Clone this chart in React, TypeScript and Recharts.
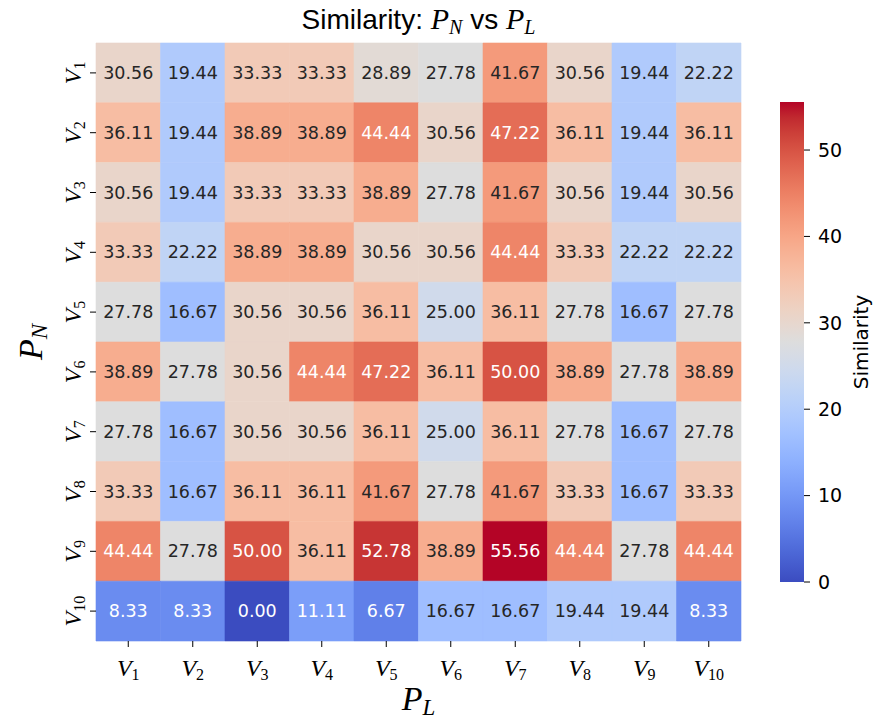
import React from 'react';
import { ScatterChart, ComposedChart, Scatter, XAxis, YAxis, ReferenceArea, Label } from 'recharts';

// ---- data ----
const colSubs = ['1', '2', '3', '4', '5', '6', '7', '8', '9', '10'];
const rowSubs = ['1', '2', '3', '4', '5', '6', '7', '8', '9', '10'];

const rowV1 = [30.56, 19.44, 33.33, 33.33, 28.89, 27.78, 41.67, 30.56, 19.44, 22.22];
const rowV2 = [36.11, 19.44, 38.89, 38.89, 44.44, 30.56, 47.22, 36.11, 19.44, 36.11];
const rowV3 = [30.56, 19.44, 33.33, 33.33, 38.89, 27.78, 41.67, 30.56, 19.44, 30.56];
const rowV4 = [33.33, 22.22, 38.89, 38.89, 30.56, 30.56, 44.44, 33.33, 22.22, 22.22];
const rowV5 = [27.78, 16.67, 30.56, 30.56, 36.11, 25.0, 36.11, 27.78, 16.67, 27.78];
const rowV6 = [38.89, 27.78, 30.56, 44.44, 47.22, 36.11, 50.0, 38.89, 27.78, 38.89];
const rowV7 = [27.78, 16.67, 30.56, 30.56, 36.11, 25.0, 36.11, 27.78, 16.67, 27.78];
const rowV8 = [33.33, 16.67, 36.11, 36.11, 41.67, 27.78, 41.67, 33.33, 16.67, 33.33];
const rowV9 = [44.44, 27.78, 50.0, 36.11, 52.78, 38.89, 55.56, 44.44, 27.78, 44.44];
const rowV10 = [8.33, 8.33, 0.0, 11.11, 6.67, 16.67, 16.67, 19.44, 19.44, 8.33];

const matrix = [rowV1, rowV2, rowV3, rowV4, rowV5, rowV6, rowV7, rowV8, rowV9, rowV10];

const colorbarTicks = [0, 10, 20, 30, 40, 50];
const vmin = 0;
const vmax = 55.56;

// coolwarm (Moreland) control points
const coolwarmStops: number[][] = [
  [59, 76, 192], [68, 90, 204], [77, 104, 215], [87, 117, 225], [98, 130, 234],
  [108, 142, 241], [119, 154, 247], [130, 165, 251], [141, 176, 254], [152, 185, 255],
  [163, 194, 255], [174, 201, 253], [184, 208, 249], [194, 213, 244], [204, 217, 238],
  [213, 219, 230], [221, 221, 221], [229, 216, 209], [236, 211, 197], [241, 204, 185],
  [245, 196, 173], [247, 187, 160], [247, 177, 148], [247, 166, 135], [244, 154, 123],
  [241, 141, 111], [236, 127, 99], [229, 112, 88], [222, 96, 77], [213, 80, 66],
  [203, 62, 56], [192, 40, 47], [180, 4, 38],
];

function coolwarmRgb(t: number): number[] {
  const tt = Math.max(0, Math.min(1, t));
  const pos = tt * (coolwarmStops.length - 1);
  const i = Math.min(Math.floor(pos), coolwarmStops.length - 2);
  const f = pos - i;
  const a = coolwarmStops[i];
  const b = coolwarmStops[i + 1];
  return [0, 1, 2].map((k) => a[k] + (b[k] - a[k]) * f);
}

function rgbStr(c: number[]) {
  return `rgb(${Math.round(c[0])},${Math.round(c[1])},${Math.round(c[2])})`;
}

function luminance(c: number[]) {
  const lin = c.map((v) => {
    const s = v / 255;
    return s <= 0.03928 ? s / 12.92 : Math.pow((s + 0.055) / 1.055, 2.4);
  });
  return 0.2126 * lin[0] + 0.7152 * lin[1] + 0.0722 * lin[2];
}

const cells = matrix.flatMap((row, i) =>
  row.map((v, j) => {
    const rgb = coolwarmRgb((v - vmin) / (vmax - vmin));
    return {
      x: j + 0.5,
      y: i + 0.5,
      row: i,
      col: j,
      value: v,
      fill: rgbStr(rgb),
      text: luminance(rgb) > 0.408 ? '#262626' : '#ffffff',
    };
  })
);

const tickPos = colSubs.map((_, i) => i + 0.5);

const SERIF = '"Liberation Serif", "DejaVu Serif", serif';
const SANS = '"DejaVu Sans", sans-serif';

const XTick = (props: any) => {
  const { x, y, payload } = props;
  const idx = Math.round(payload.value - 0.5);
  return (
    <text x={x} y={y + 27} textAnchor="middle" fill="#000">
      <tspan fontFamily={SERIF} fontStyle="italic" fontSize={24}>V</tspan>
      <tspan fontFamily={SERIF} fontSize={16} dy={4}>{colSubs[idx]}</tspan>
    </text>
  );
};

const YTick = (props: any) => {
  const { x, y, payload } = props;
  const idx = Math.round(payload.value - 0.5);
  const bx = x - 7;
  return (
    <text x={bx} y={y} transform={`rotate(-90, ${bx}, ${y})`} textAnchor="middle" fill="#000">
      <tspan fontFamily={SERIF} fontStyle="italic" fontSize={24}>V</tspan>
      <tspan fontFamily={SERIF} fontSize={16} dy={4}>{rowSubs[idx]}</tspan>
    </text>
  );
};

const XTitle = (props: any) => {
  const vb = props.viewBox;
  const cx = vb.x + vb.width / 2;
  return (
    <text x={cx} y={710} textAnchor="middle" fill="#000">
      <tspan fontFamily={SERIF} fontStyle="italic" fontSize={34}>P</tspan>
      <tspan fontFamily={SERIF} fontStyle="italic" fontSize={23} dy={5}>L</tspan>
    </text>
  );
};

const YTitle = (props: any) => {
  const vb = props.viewBox;
  const cy = vb.y + vb.height / 2;
  const bx = 42;
  return (
    <text x={bx} y={cy} transform={`rotate(-90, ${bx}, ${cy})`} textAnchor="middle" fill="#000">
      <tspan fontFamily={SERIF} fontStyle="italic" fontSize={34}>P</tspan>
      <tspan fontFamily={SERIF} fontStyle="italic" fontSize={23} dy={5}>N</tspan>
    </text>
  );
};

const CbTitle = (props: any) => {
  const vb = props.viewBox;
  const cy = vb.y + vb.height / 2;
  const bx = vb.x + 64;
  return (
    <text
      x={bx}
      y={cy}
      transform={`rotate(-90, ${bx}, ${cy})`}
      textAnchor="middle"
      fontFamily={SANS}
      fontSize={20}
      fill="#000"
    >
      Similarity
    </text>
  );
};

const EmptyShape = () => <g />;

export default function App() {
  return (
    <div style={{ position: 'absolute', left: 0, top: 0, width: 877, height: 720, background: '#fff' }}>
      <div
        style={{
          position: 'absolute',
          left: 0,
          top: 3,
          width: 837,
          textAlign: 'center',
          fontFamily: '"Liberation Sans", Arial, sans-serif',
          fontSize: 28,
          lineHeight: '32px',
          color: '#000',
          whiteSpace: 'nowrap',
        }}
      >
        Similarity:{' '}
        <span style={{ fontFamily: SERIF, fontStyle: 'italic', fontSize: 30 }}>P</span>
        <span style={{ fontFamily: SERIF, fontStyle: 'italic', fontSize: 20, position: 'relative', top: 5 }}>N</span>
        {' '}vs{' '}
        <span style={{ fontFamily: SERIF, fontStyle: 'italic', fontSize: 30 }}>P</span>
        <span style={{ fontFamily: SERIF, fontStyle: 'italic', fontSize: 20, position: 'relative', top: 5 }}>L</span>
      </div>

      <div style={{ position: 'absolute', left: 0, top: 0 }}>
        <ScatterChart width={877} height={720} margin={{ top: 43, right: 136, bottom: 0, left: 0 }}>
          <XAxis
            type="number"
            dataKey="x"
            domain={[0, 10]}
            ticks={tickPos}
            interval={0}
            allowDataOverflow
            axisLine={false}
            tickSize={6}
            tickLine={{ stroke: '#000' }}
            height={79}
            tick={<XTick />}
          >
            <Label content={<XTitle />} />
          </XAxis>
          <YAxis
            type="number"
            dataKey="y"
            domain={[0, 10]}
            reversed
            ticks={tickPos}
            interval={0}
            allowDataOverflow
            axisLine={false}
            tickSize={6}
            tickLine={{ stroke: '#000' }}
            width={96}
            tick={<YTick />}
          >
            <Label content={<YTitle />} />
          </YAxis>
          {cells.map((c) => (
            <ReferenceArea
              key={`c-${c.row}-${c.col}`}
              x1={c.col}
              x2={c.col + 1}
              y1={c.row}
              y2={c.row + 1}
              fill={c.fill}
              fillOpacity={1}
              stroke={c.fill}
              strokeWidth={0.6}
              ifOverflow="visible"
              label={(p: any) => {
                const vb = p.viewBox;
                return (
                  <text
                    x={vb.x + vb.width / 2}
                    y={vb.y + vb.height / 2}
                    dy={6}
                    textAnchor="middle"
                    fontFamily={SANS}
                    fontSize={17.5}
                    fill={c.text}
                  >
                    {c.value.toFixed(2)}
                  </text>
                );
              }}
            />
          ))}
          <Scatter data={cells} isAnimationActive={false} shape={<EmptyShape />} />
        </ScatterChart>
      </div>

      <div style={{ position: 'absolute', left: 740, top: 0 }}>
        <ComposedChart width={137} height={720} margin={{ top: 102, right: 0, bottom: 138, left: 40 }}>
          <defs>
            <linearGradient id="cbgrad" x1="0" y1="1" x2="0" y2="0">
              {coolwarmStops.map((s, i) => (
                <stop key={i} offset={`${(i / (coolwarmStops.length - 1)) * 100}%`} stopColor={rgbStr(s)} />
              ))}
            </linearGradient>
          </defs>
          <XAxis type="number" dataKey="x" domain={[0, 1]} hide allowDataOverflow />
          <YAxis
            type="number"
            dataKey="y"
            orientation="right"
            domain={[vmin, vmax]}
            ticks={colorbarTicks}
            interval={0}
            allowDataOverflow
            axisLine={false}
            tickSize={6}
            tickMargin={8}
            tickLine={{ stroke: '#000' }}
            width={73}
            tick={{ fontFamily: SANS, fontSize: 19, fill: '#000' }}
          >
            <Label content={<CbTitle />} />
          </YAxis>
          <ReferenceArea x1={0} x2={1} y1={vmin} y2={vmax} fill="url(#cbgrad)" fillOpacity={1} ifOverflow="visible" />
          <Scatter data={[{ x: 0.5, y: 0 }]} isAnimationActive={false} shape={<EmptyShape />} />
        </ComposedChart>
      </div>
    </div>
  );
}
